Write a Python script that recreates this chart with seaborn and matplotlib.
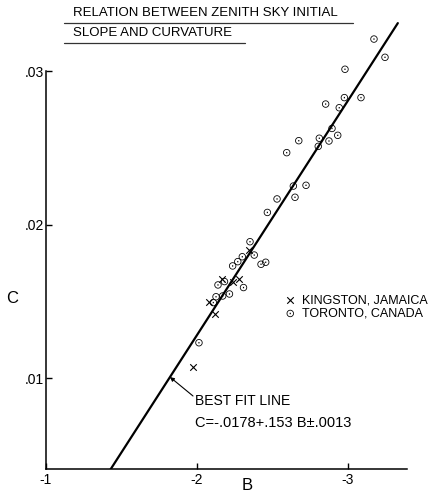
import numpy as np
import pandas as pd
import matplotlib
matplotlib.use('Agg')
import matplotlib.pyplot as plt
import seaborn as sns
from matplotlib.lines import Line2D

# ---- data ----
toronto_B = [-3.172, -3.245, -2.980, -3.086, -2.976, -2.852, -2.942, -2.894, -2.932,
             -2.810, -2.874, -2.674, -2.803, -2.594, -2.722, -2.638, -2.649, -2.530,
             -2.466, -2.351, -2.379, -2.424, -2.455, -2.300, -2.270, -2.236, -2.139,
             -2.182, -2.308, -2.215, -2.170, -2.126, -2.108, -2.013]
toronto_C = [0.03211, 0.03092, 0.03014, 0.02829, 0.02829, 0.02787, 0.02763, 0.02628, 0.02583,
             0.02564, 0.02546, 0.02548, 0.02511, 0.02470, 0.02257, 0.02252, 0.02179, 0.02168,
             0.02080, 0.01889, 0.01802, 0.01742, 0.01755, 0.01791, 0.01759, 0.01731, 0.01607,
             0.01629, 0.01590, 0.01548, 0.01535, 0.01530, 0.01492, 0.01230]
kingston_B = [-2.346, -2.166, -2.238, -2.278, -2.079, -2.119, -1.972]
kingston_C = [0.01835, 0.01643, 0.01629, 0.01649, 0.01496, 0.01417, 0.01070]

fit_intercept = -0.0178
fit_slope = -0.0153
fit_B = [-1.42, -3.33]

x_ticks = [-1, -2, -3]
x_ticklabels = ['-1', '-2', '-3']
y_ticks = [0.01, 0.02, 0.03]
y_ticklabels = ['.01', '.02', '.03']

title_lines = ['RELATION BETWEEN ZENITH SKY INITIAL', 'SLOPE AND CURVATURE']
legend_labels = ['KINGSTON, JAMAICA', 'TORONTO, CANADA']
annot_line1 = 'BEST FIT LINE'
annot_line2 = 'C=-.0178+.153 B\u00b1.0013'

# ---- style ----
sns.set_theme(style='white')
plt.rcParams['font.family'] = ['Liberation Sans', 'DejaVu Sans']
plt.rcParams['text.color'] = 'black'
plt.rcParams['axes.labelcolor'] = 'black'
plt.rcParams['xtick.color'] = 'black'
plt.rcParams['ytick.color'] = 'black'

W, H = 428, 504
fig = plt.figure(figsize=(W / 100, H / 100), dpi=100)
fig.patch.set_facecolor('white')

ax_left, ax_right, ax_bottom, ax_top = 46, 407, 469, 19.3
ax = fig.add_axes([ax_left / W, 1 - ax_bottom / H, (ax_right - ax_left) / W, (ax_bottom - ax_top) / H])

df_k = pd.DataFrame({'B': kingston_B, 'C': kingston_C})
df_t = pd.DataFrame({'B': toronto_B, 'C': toronto_C})
fit_C = [fit_intercept + fit_slope * b for b in fit_B]
df_fit = pd.DataFrame({'B': fit_B, 'C': fit_C})

sns.lineplot(data=df_fit, x='B', y='C', ax=ax, color='black', lw=1.6, legend=False)
sns.scatterplot(data=df_k, x='B', y='C', ax=ax, marker='x', s=22, color='black',
                linewidth=0.8, label=legend_labels[0], zorder=3)
sns.scatterplot(data=df_t, x='B', y='C', ax=ax, marker=r'$\odot$', s=28, color='black',
                edgecolor='none', label=legend_labels[1], zorder=3)

ylo = 0.01 - (ax_bottom - 378) / 15330.0
yhi = 0.01 + (378 - ax_top) / 15330.0
ax.set_xlim(-1, -1 - (ax_right - ax_left) / 151.0)
ax.set_ylim(ylo, yhi)

for s in ['top', 'right']:
    ax.spines[s].set_visible(False)
for s in ['left', 'bottom']:
    ax.spines[s].set_color('black')
    ax.spines[s].set_linewidth(1.1)
ax.spines['left'].set_bounds(ylo, 0.03)

ax.set_xticks(x_ticks)
ax.set_xticklabels(x_ticklabels)
ax.set_yticks(y_ticks)
ax.set_yticklabels(y_ticklabels)
ax.tick_params(axis='both', direction='in', length=4.5, width=1.0, labelsize=10,
               left=True, bottom=True, top=False, right=False)
ax.tick_params(axis='y', pad=1.5)
ax.tick_params(axis='x', pad=3)
ax.grid(False)

ax.set_xlabel('B', fontsize=12, va='center')
ax.xaxis.set_label_coords((247 - ax_left) / (ax_right - ax_left), (ax_bottom - 485) / (ax_bottom - ax_top))
ax.set_ylabel('C', fontsize=12, rotation=0, va='center', ha='center')
ax.yaxis.set_label_coords((12 - ax_left) / (ax_right - ax_left), (ax_bottom - 298) / (ax_bottom - ax_top))

# legend
leg = ax.legend(loc='center left', bbox_to_anchor=(284 / W, 1 - 307 / H),
                bbox_transform=fig.transFigure, frameon=False, fontsize=9,
                handlelength=1.0, handletextpad=0.45, labelspacing=0.12,
                borderpad=0, borderaxespad=0, markerscale=1.0)

# annotation
def px2data(px, py):
    return (-1 - (px - 46) / 151.0, 0.01 + (378 - py) / 15330.0)

b_on_line = -1.821
ax.annotate('', xy=(b_on_line, fit_intercept + fit_slope * b_on_line), xytext=px2data(193, 396),
            arrowprops=dict(arrowstyle='-|>', color='black', lw=0.8, shrinkA=0, shrinkB=0,
                            mutation_scale=6))
tx, ty = px2data(195, 401)
ax.text(tx, ty, annot_line1, fontsize=10, ha='left', va='center')
tx, ty = px2data(195, 423)
ax.text(tx, ty, annot_line2, fontsize=10.5, ha='left', va='center')

# title with underlines
fig.text(73 / W, 1 - 13 / H, title_lines[0], fontsize=9.5, ha='left', va='center')
fig.text(73 / W, 1 - 33 / H, title_lines[1], fontsize=9.5, ha='left', va='center')
fig.add_artist(Line2D([64 / W, 353 / W], [1 - 23 / H, 1 - 23 / H], color='#333333', lw=0.9))
fig.add_artist(Line2D([64 / W, 245 / W], [1 - 43 / H, 1 - 43 / H], color='#333333', lw=0.9))

fig.savefig('out.png', dpi=100, facecolor='white')
